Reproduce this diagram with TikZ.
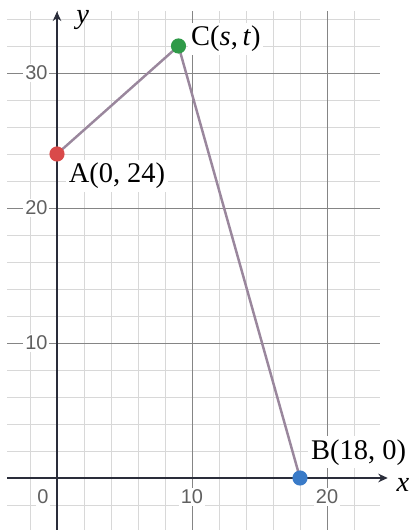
\documentclass[tikz,border=0pt]{standalone}
\usepackage{fontspec}
\setmainfont{Liberation Serif}
\newfontfamily\ticksfont{Liberation Sans}
\usetikzlibrary{arrows.meta, positioning}
\definecolor{GridMinor}{HTML}{D8D8D8}
\definecolor{GridMajor}{HTML}{858585}
\definecolor{AxisDark}{HTML}{2A2D3A}
\definecolor{SegPurple}{HTML}{9A879D}
\definecolor{PtRed}{HTML}{D94A4A}
\definecolor{PtGreen}{HTML}{2F9A48}
\definecolor{PtBlue}{HTML}{3A7BC8}
\definecolor{TickGray}{HTML}{606060}

\begin{document}
\begin{tikzpicture}[
    x=0.25cm, y=0.25cm,
    minorgrid/.style={draw=GridMinor, line width=0.5pt},
    majorgrid/.style={draw=GridMajor, line width=0.5pt},
    axis/.style={-{Stealth[length=5pt, width=4.5pt]}, line width=0.9pt, color=AxisDark},
    seg/.style={line width=1.3pt, color=SegPurple},
    dot/.style={circle, inner sep=0pt, minimum size=8pt},
    ptlabel/.style={fill=white, inner sep=1.5pt, font=\fontsize{15}{17}\selectfont},
    ticklabel/.style={fill=white, inner sep=1pt, text=TickGray, font=\ticksfont\fontsize{10.5}{12}\selectfont},
    axlabel/.style={inner sep=0pt, font=\fontsize{15}{17}\selectfont\itshape}
  ]
    \useasboundingbox (-4.222,-3.852) rectangle (26.296,35.407);

    % grid
    \draw[minorgrid] (-3.7,-3.852) grid[step=2] (23.95,34.6);
    \draw[majorgrid] (-3.7,-3.852) grid[step=10] (23.95,34.6);

    % axes
    \coordinate (xstart) at (-3.7,0);
    \coordinate (xend) at (24.5,0);
    \coordinate (ystart) at (0,-3.852);
    \coordinate (yend) at (0,34.55);
    \draw[axis] (xstart) -- (xend);
    \draw[axis] (ystart) -- (yend);
    \node[axlabel, right=4.5pt of xend, yshift=-3.5pt] (xlab) {x};
    \node[axlabel, right=10pt of yend, yshift=-4.5pt] (ylab) {y};

    \node[ticklabel] (tx0) at (-1.04,-1.41) {0};
    \node[ticklabel] (tx10) at (10,-1.41) {10};
    \node[ticklabel] (tx20) at (20,-1.41) {20};
    \node[ticklabel] (ty10) at (-1.52,10) {10};
    \node[ticklabel] (ty20) at (-1.52,20) {20};
    \node[ticklabel] (ty30) at (-1.52,30) {30};

    % points
    \coordinate (a) at (0,24);
    \coordinate (c) at (9,32);
    \coordinate (b) at (18,0);
    \draw[seg] (a) -- (c) -- (b);
    \node[dot, fill=PtRed] (A) at (a) {};
    \node[dot, fill=PtGreen] (C) at (c) {};
    \node[dot, fill=PtBlue] (B) at (b) {};

    \node[ptlabel, right=0.3pt of A, yshift=-11.5pt] (labA) {A(0, 24)};
    \node[ptlabel, right=0.8pt of C, yshift=3.7pt] (labC) {C(\textit{s},\,\textit{t})};
    \node[ptlabel, right=0pt of B, yshift=13.6pt] (labB) {B(18, 0)};
  \end{tikzpicture}
\end{document}
